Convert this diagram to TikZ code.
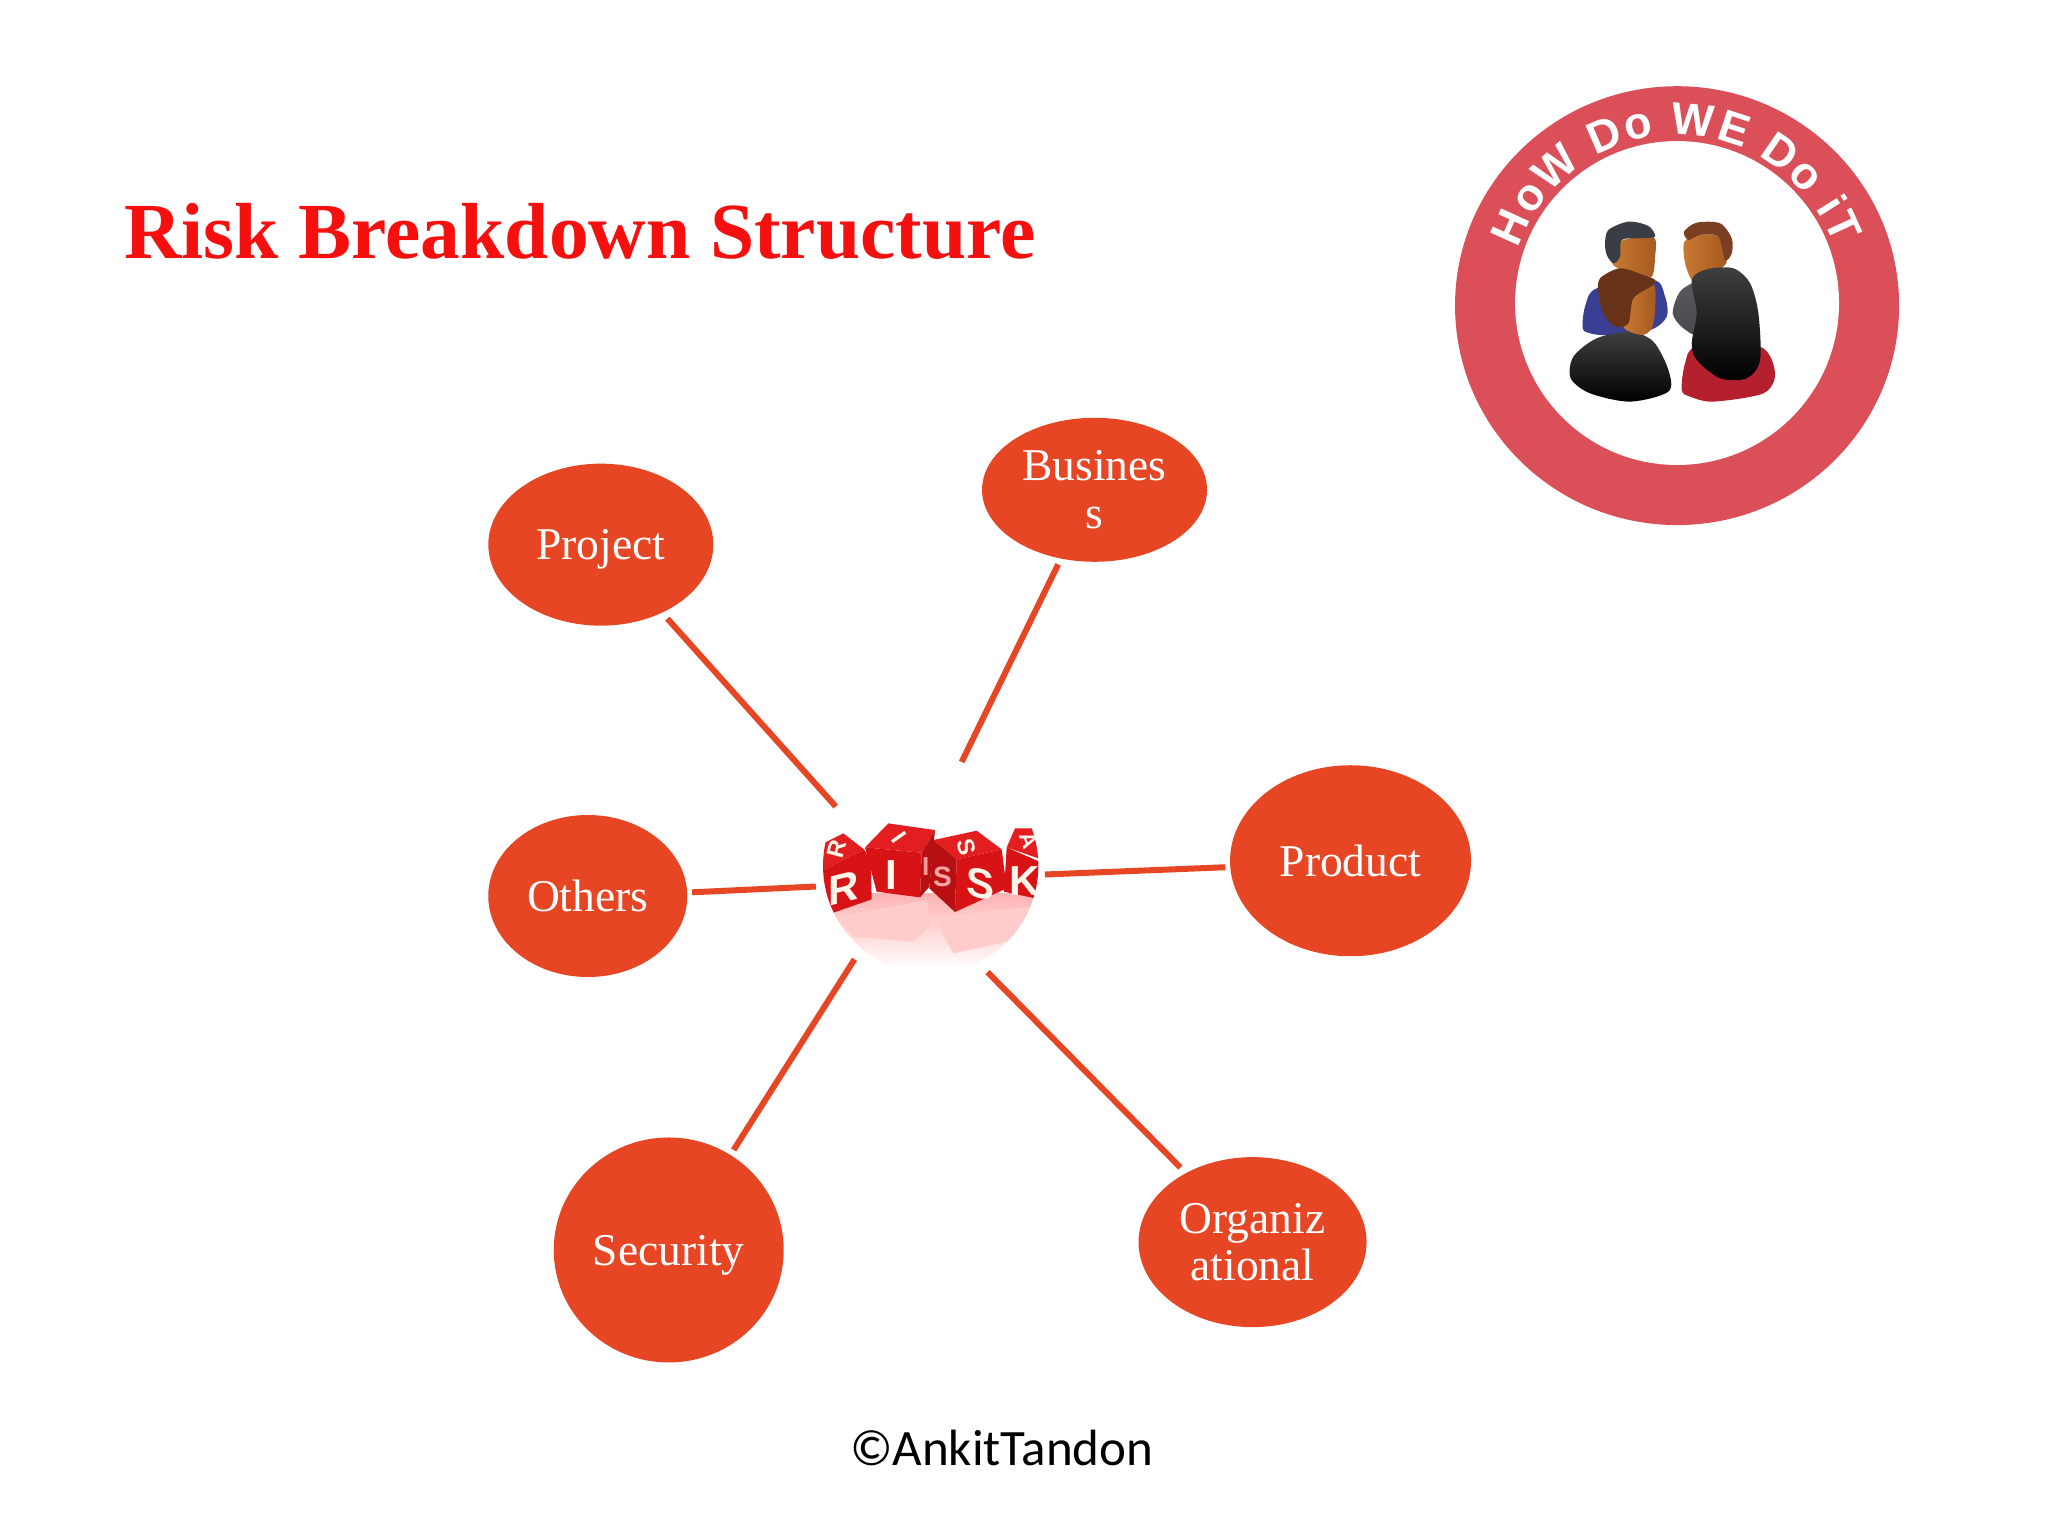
\documentclass[tikz,border=0pt]{standalone}
\usepackage{fontspec}
\setmainfont{Liberation Serif}
\newfontfamily\footfont{Carlito}
\newfontfamily\ringfont{Liberation Sans}[BoldFont={Liberation Sans Bold}]
\newfontfamily\dicefont{Liberation Sans Bold}
\usetikzlibrary{shapes.geometric,decorations.text,shadings}
\definecolor{nodered}{HTML}{E74625}
\definecolor{titlered}{HTML}{F50F0F}
\definecolor{ringred}{HTML}{DA4F58}
\definecolor{cubered}{HTML}{D81315}
\definecolor{cubetop}{HTML}{E31E20}
\definecolor{cubedark}{HTML}{B80F12}
\definecolor{facelight}{HTML}{C97A33}
\definecolor{facedark}{HTML}{A5591F}
\definecolor{hairdark}{HTML}{3A3D44}
\definecolor{hairbrown}{HTML}{7A3F22}
\definecolor{hairfront}{HTML}{69331A}
\definecolor{shirtblue}{HTML}{3A3F94}
\definecolor{shirtgrey}{HTML}{5A5A5E}
\definecolor{dressred}{HTML}{B5202F}
\tikzset{
  bubble/.style={ellipse,fill=nodered,draw=none,inner sep=0pt,outer sep=0pt,text=white,align=center,
    font=\fontsize{45.5}{47.5}\selectfont},
  spoke/.style={draw=nodered,line width=6pt},
  dice/.style={font=\dicefont\fontsize{42}{42}\selectfont,text=white!92!orange,inner sep=0pt},
  diceface/.style={fill=cubered,draw=none},
  skin/.style={left color=facelight,right color=facedark,draw=none}
}
\begin{document}
\begin{tikzpicture}[x=1.30612pt,y=-1.30612pt]
\useasboundingbox (0,0) rectangle (1568,1176);
\fill[white] (0,0) rectangle (1568,1176);

% title and footer
\node[anchor=base west,inner sep=0pt,text=titlered,font=\bfseries\fontsize{79.5}{80}\selectfont] (title) at (95,198) {Risk Breakdown Structure};
\node[anchor=base,inner sep=0pt,text=black,font=\footfont\fontsize{51}{51}\selectfont] (foot) at (767,1122) {©AnkitTandon};

% ring badge
\fill[ringred] (1284,234) ellipse [x radius=170,y radius=168];
\fill[white] (1284,232) circle [radius=124];
\begin{scope}[shift={(1284,232)},x=1pt,y=1pt]
  \path[postaction={decorate},decoration={text along path,text align=fit to path,
     text={|\ringfont\bfseries\fontsize{45}{45}\selectfont\color{white}|HoW Do WE Do iT}}]
     (161:168pt) arc (161:20:168pt);
\end{scope}

% people
\begin{scope}[shift={(1179.1,153.1)},x=0.33333pt,y=-0.33333pt]
  \shade[top color=shirtgrey,bottom color=shirtgrey!80!black] plot[smooth cycle] coordinates {(398,340) (420,275) (470,245) (500,260) (480,400) (430,385)};
  \shade[skin] plot[smooth cycle] coordinates {(433,125) (480,105) (535,110) (560,180) (540,205) (470,225) (455,240) (435,190)};
  \fill[hairbrown] plot[smooth cycle] coordinates {(432,95) (470,68) (540,70) (575,115) (575,160) (555,180) (535,110) (480,105) (445,120)};
  \fill[shirtblue] plot[smooth cycle] coordinates {(128,385) (135,320) (170,265) (340,240) (375,290) (380,350) (330,390) (200,405) (150,400)};
  \shade[skin] plot[smooth cycle] coordinates {(245,122) (340,112) (345,170) (335,230) (290,225) (225,200) (215,170)};
  \fill[hairdark] plot[smooth cycle] coordinates {(195,130) (205,90) (265,65) (325,78) (345,110) (300,115) (245,120) (240,170) (220,190) (200,165)};
  \shade[top color=black!75,bottom color=black] plot[smooth cycle] coordinates {(92,535) (100,470) (170,415) (270,395) (340,425) (385,510) (385,575) (270,605) (150,580)};
  \shade[skin] plot[smooth cycle] coordinates {(270,300) (340,255) (345,330) (335,385) (305,405) (250,380)};
  \fill[hairfront] plot[smooth cycle] coordinates {(175,280) (180,235) (240,205) (310,225) (345,240) (335,258) (280,295) (265,370) (225,380) (190,340)};
  \fill[dressred] plot[smooth cycle] coordinates {(425,570) (435,490) (470,440) (660,440) (705,520) (670,580) (520,605) (450,590)};
  \shade[top color=black!75,bottom color=black] plot[smooth cycle] coordinates {(455,240) (500,208) (580,205) (630,250) (655,340) (660,480) (620,535) (540,535) (470,480) (455,430) (470,340)};
\end{scope}

% RISK picture
\begin{scope}[shift={(597.2,581.9)},x=0.33333pt,y=-0.33333pt]
  \clip (452,317) circle [radius=323];
  \shade[top color=red!30!white,bottom color=white] (100,400) rectangle (800,630);
  \fill[red!20!white] (170,470) -- (440,420) -- (450,500) -- (400,545) -- (220,530) -- cycle;
  \fill[red!20!white] (460,470) -- (760,440) -- (700,540) -- (520,580) -- cycle;
  % cube 1
  \fill[cubetop] (120,255) -- (190,220) -- (252,268) -- (120,335) -- cycle;
  \fill[diceface] (120,335) -- (252,268) -- (272,300) -- (275,418) -- (160,458) -- (120,400) -- cycle;
  % cube 2
  \fill[cubetop] (255,262) -- (325,190) -- (465,210) -- (425,278) -- cycle;
  \fill[diceface] (255,262) -- (425,278) -- (420,412) -- (290,395) -- cycle;
  \fill[cubedark] (425,278) -- (465,210) -- (448,380) -- (420,412) -- cycle;
  % cube 3
  \fill[cubetop] (460,240) -- (590,212) -- (665,268) -- (530,298) -- cycle;
  \fill[cubedark] (460,240) -- (530,298) -- (525,456) -- (448,385) -- cycle;
  \fill[diceface] (530,298) -- (665,268) -- (680,385) -- (525,456) -- cycle;
  % cube 4
  \fill[cubetop] (680,262) -- (705,205) -- (790,205) -- (790,300) -- cycle;
  \fill[diceface] (680,262) -- (790,310) -- (790,420) -- (672,395) -- cycle;
  % letters
  \node[dice,yslant=0.25] (l1) at (190,385) {R};
  \node[dice,rotate=75,font=\dicefont\fontsize{24}{24}\selectfont] (l2) at (170,268) {R};
  \node[dice,font=\dicefont\fontsize{42}{42}\selectfont] (l3) at (335,345) {I};
  \node[dice,rotate=-55,font=\dicefont\fontsize{24}{24}\selectfont] (l4) at (358,232) {I};
  \node[dice,text=white!60!red,font=\dicefont\fontsize{26}{26}\selectfont] (l5) at (437,320) {I};
  \node[dice,yslant=-0.2] (l6) at (600,370) {S};
  \node[dice,text=white!65!red,font=\dicefont\fontsize{28}{28}\selectfont] (l7) at (487,350) {S};
  \node[dice,rotate=-75,font=\dicefont\fontsize{24}{24}\selectfont] (l8) at (560,262) {S};
  \node[dice] (l9) at (735,362) {K};
  \node[dice,rotate=-70,font=\dicefont\fontsize{22}{22}\selectfont] (l10) at (745,240) {A};
\end{scope}

% nodes
\node[circle,minimum size=230pt,inner sep=0pt,outer sep=0pt] (risk) at (712,668) {};
\node[bubble,text depth=0pt,minimum width=225pt,minimum height=162pt] (project) at (460,417) {Project};
\node[bubble,minimum width=225pt,minimum height=144pt] (business) at (838,375) {Busines\\s};
\node[bubble,minimum width=241pt,minimum height=191pt] (product) at (1034,659) {Product};
\node[bubble,minimum width=199pt,minimum height=162pt] (others) at (450,686) {Others};
\node[bubble,text depth=0pt,minimum width=230pt,minimum height=225pt] (security) at (512,957) {Security};
\node[bubble,minimum width=228pt,minimum height=170pt] (organiz) at (959,951) {Organiz\\ational};

% connectors
\draw[spoke,shorten >=8pt] (risk.145.3) -- (project.-48.7);
\draw[spoke,shorten >=6.5pt] (risk.74.4) -- (business.-116.2);
\draw[spoke,shorten >=5pt] (risk.-1.3) -- (product.-177.6);
\draw[spoke,shorten >=5pt] (risk.-173.3) -- (others.2.9);
\draw[spoke,shorten >=6pt] (risk.-131.4) -- (security.57.5);
\draw[spoke,shorten >=8pt] (risk.-60.2) -- (organiz.134);
\end{tikzpicture}
\end{document}
